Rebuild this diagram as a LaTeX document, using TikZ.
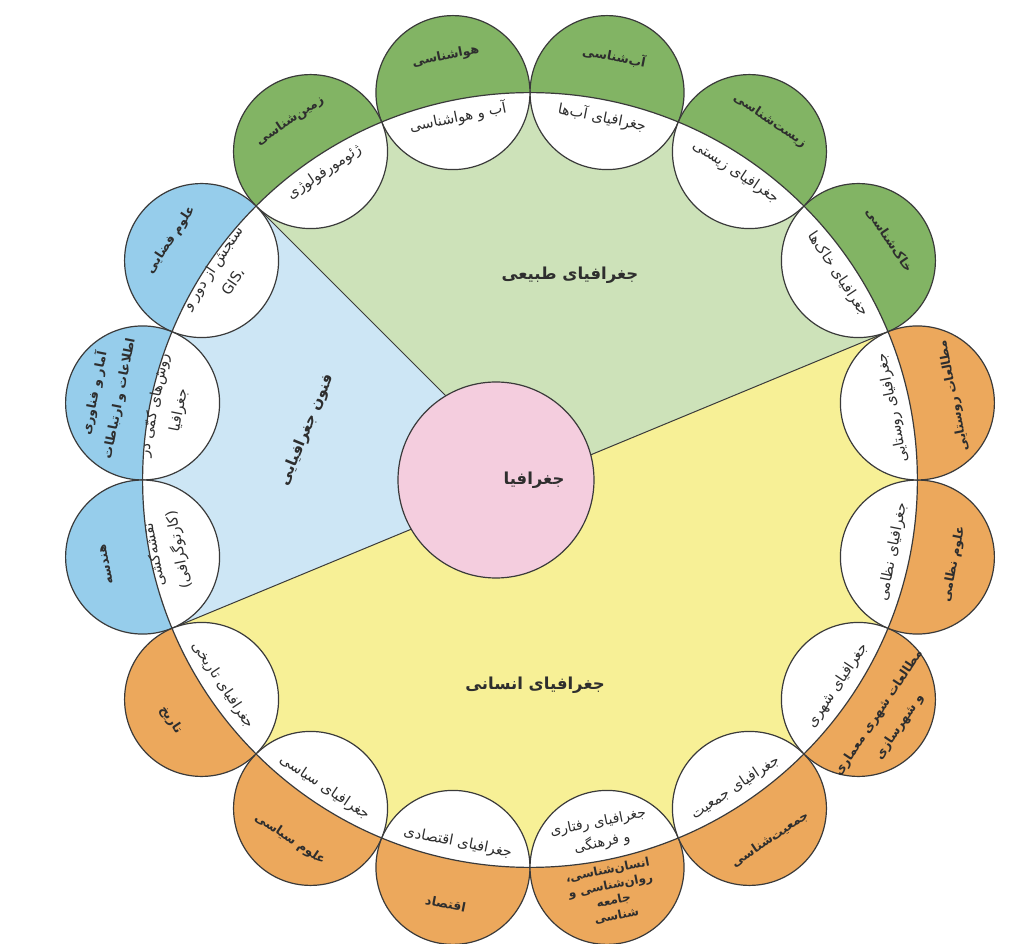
\documentclass[tikz,border=0pt]{standalone}
\usepackage{fontspec}
\usepackage{tikz}
\TeXXeTstate=1
\newfontfamily\fafont[Script=Arabic]{DejaVu Sans}

\definecolor{greenpart}{HTML}{82B464}
\definecolor{greenfield}{HTML}{CDE2B9}
\definecolor{bluepart}{HTML}{96CDEB}
\definecolor{bluefield}{HTML}{CDE6F5}
\definecolor{orangepart}{HTML}{ECA85C}
\definecolor{yellowfield}{HTML}{F7F096}
\definecolor{pinkfield}{HTML}{F4CDDE}
\definecolor{linegray}{HTML}{3A3A3A}
\definecolor{textgray}{HTML}{2E2E2E}

\tikzset{main circle/.style={circle,draw=linegray,line width=1.2pt,fill=pinkfield,minimum size=196pt,inner sep=0pt},
  ring line/.style={draw=linegray,line width=1.2pt},
  divider/.style={draw=linegray,line width=1pt},
  outer label/.style={font=\fafont\bfseries\fontsize{12.5}{25}\selectfont,text=textgray,align=center,inner sep=0pt},
  inner label/.style={font=\fafont\fontsize{14.5}{25}\selectfont,text=textgray,align=center,inner sep=0pt},
  sector label/.style={font=\fafont\bfseries\fontsize{16.5}{20}\selectfont,text=textgray,inner sep=0pt} }

\newcommand{\rtl}[1]{\beginR#1\endR}
% name, angle, colour
\newcommand{\ringshape}[3]{%
  \coordinate (#1) at (#2:395pt);
  \begin{scope}
    \clip (#1) circle (77pt);
    \fill[#3] (#1) circle (77pt);
    \fill[white] (o) circle (387.4pt);
    \draw[ring line] (o) circle (387.4pt);
  \end{scope}
  \draw[ring line] (#1) circle (77pt);
}
% name, angle, colour, text rotation, outer text, inner text
\newcommand{\ringcircle}[6]{%
  \ringshape{#1}{#2}{#3}
  \node[outer label,rotate=#4] (#1-out) at (#2:432pt) {#5};
  \node[inner label,rotate=#4] (#1-in) at (#2:370pt) {#6};
}

\begin{document}
\begin{tikzpicture}
  \useasboundingbox (-530pt,-464pt) rectangle (503pt,480pt);
  \coordinate (o) at (0,0);

  % the three fields
  \fill[greenfield] (o) -- (22.5:387.4pt) arc[start angle=22.5,end angle=135,radius=387.4pt] -- cycle;
  \fill[bluefield] (o) -- (135:387.4pt) arc[start angle=135,end angle=202.5,radius=387.4pt] -- cycle;
  \fill[yellowfield] (o) -- (202.5:387.4pt) arc[start angle=202.5,end angle=382.5,radius=387.4pt] -- cycle;

  \coordinate (t1) at (22.5:387.4pt);
  \coordinate (t2) at (135:387.4pt);
  \coordinate (t3) at (202.5:387.4pt);
  \draw[divider] (o) -- (t1);
  \draw[divider] (o) -- (t2);
  \draw[divider] (o) -- (t3);

  \node[main circle] (geo) at (-34pt,0) {};
  \node[sector label] (geo-label) at (4pt,0) {\rtl{جغرافیا}};

  \node[sector label] (nature) at (40pt,205pt) {\rtl{جغرافیای طبیعی}};
  \node[sector label,font=\fafont\bfseries\fontsize{15}{18}\selectfont,rotate=67.5] (techniques) at (-223pt,50pt) {\rtl{فنون جغرافیایی}};
  \node[sector label] (human) at (5pt,-205pt) {\rtl{جغرافیای انسانی}};

  % natural geography
  \ringcircle{c1}{78.75}{greenpart}{-11.25}{\rtl{آب‌شناسی}}{\rtl{جغرافیای آب‌ها}}
  \ringcircle{c2}{101.25}{greenpart}{11.25}{\rtl{هواشناسی}}{\rtl{آب و هواشناسی}}
  \ringcircle{c3}{123.75}{greenpart}{33.75}{\rtl{زمین‌شناسی}}{\rtl{ژئومورفولوژی}}
  \ringcircle{c15}{33.75}{greenpart}{-56.25}{\rtl{خاک‌شناسی}}{\rtl{جغرافیای خاک‌ها}}
  \ringcircle{c16}{56.25}{greenpart}{-33.75}{\rtl{زیست‌شناسی}}{\rtl{جغرافیای زیستی}}

  % geographic techniques
  \ringcircle{c4}{146.25}{bluepart}{56.25}{\rtl{علوم فضایی}}{\rtl{سنجش از دور و}\\\rtl{GIS،}}
  \ringcircle{c5}{168.75}{bluepart}{78.75}{\rtl{آمار و فناوری}\\\rtl{اطلاعات و ارتباطات}}{\rtl{روش‌های کمّی در}\\\rtl{جغرافیا}}
  \ringcircle{c6}{191.25}{bluepart}{101.25}{\rtl{هندسه}}{\rtl{نقشه‌کشی}\\\rtl{(کارتوگرافی)}}

  % human geography
  \ringcircle{c7}{213.75}{orangepart}{-56.25}{\rtl{تاریخ}}{\rtl{جغرافیای تاریخی}}
  \ringcircle{c8}{236.25}{orangepart}{-33.75}{\rtl{علوم سیاسی}}{\rtl{جغرافیای سیاسی}}
  \ringcircle{c9}{258.75}{orangepart}{-11.25}{\rtl{اقتصاد}}{\rtl{جغرافیای اقتصادی}}
  \ringshape{c10}{281.25}{orangepart}
  \node[outer label,font=\fafont\bfseries\fontsize{12}{15.5}\selectfont,rotate=11.25] (c10-out) at (281.25:421pt) {\rtl{انسان‌شناسی،}\\\rtl{روان‌شناسی و}\\\rtl{جامعه}\\\rtl{شناسی}};
  \node[inner label,font=\fafont\fontsize{14}{21}\selectfont,rotate=11.25] (c10-in) at (281.25:360pt) {\rtl{جغرافیای رفتاری}\\\rtl{و فرهنگی}};
  \ringcircle{c11}{303.75}{orangepart}{33.75}{\rtl{جمعیت‌شناسی}}{\rtl{جغرافیای جمعیت}}
  \ringcircle{c12}{326.25}{orangepart}{56.25}{\rtl{مطالعات شهری معماری}\\\rtl{و شهرسازی}}{\rtl{جغرافیای شهری}}
  \ringcircle{c13}{348.75}{orangepart}{78.75}{\rtl{علوم نظامی}}{\rtl{جغرافیای نظامی}}
  \ringcircle{c14}{11.25}{orangepart}{101.25}{\rtl{مطالعات روستایی}}{\rtl{جغرافیای روستایی}}
\end{tikzpicture}
\end{document}
